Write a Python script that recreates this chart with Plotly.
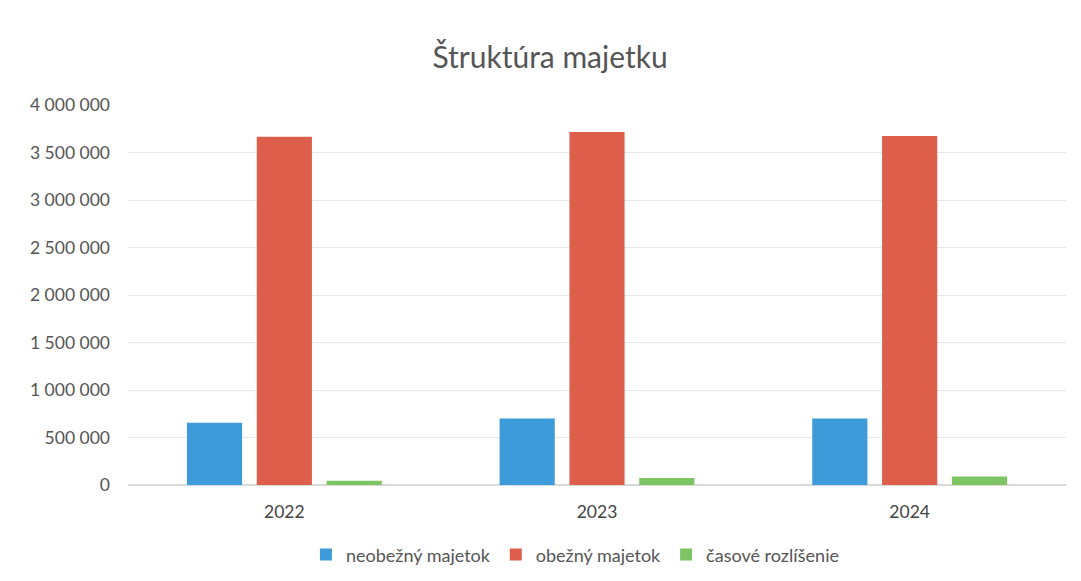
import plotly.graph_objects as go

years = ["2022", "2023", "2024"]
neobezny = [655000, 700000, 700000]
obezny = [3665000, 3715000, 3675000]
casove = [45000, 75000, 90000]

series = [
    ("neobežný majetok", neobezny, "#3D9BDA"),
    ("obežný majetok", obezny, "#DD5F4B"),
    ("časové rozlíšenie", casove, "#7DC462"),
]

fig = go.Figure()
for name, vals, col in series:
    fig.add_trace(go.Bar(x=years, y=vals, name=name, marker_color=col, marker_line_width=0))

font = "Lato, 'Open Sans', sans-serif"
fig.update_layout(
    width=1065, height=565,
    barmode="group", bargap=0.33, bargroupgap=0.21,
    separators=", ",
    paper_bgcolor="white", plot_bgcolor="white",
    margin=dict(l=120, r=7, t=97, b=88, autoexpand=False),
    title=dict(text="Štruktúra majetku", x=0.509, xanchor="center", y=0.913, yanchor="middle",
               font=dict(family=font, size=30, color="#555555")),
    font=dict(family=font, size=17.5, color="#555555"),
    yaxis=dict(range=[0, 4000000], dtick=500000, tickformat=",d", showgrid=True,
               gridcolor="#E4E8EC", gridwidth=1, zeroline=True, zerolinecolor="#D9D9D9",
               ticks="", ticklabelstandoff=17, tickfont=dict(size=17.5, color="#555555")),
    xaxis=dict(showline=False, ticks="", ticklabelstandoff=14,
               tickfont=dict(size=17.5, color="#444444")),
    legend=dict(orientation="h", x=0.477, xanchor="center", y=-0.184, yanchor="middle",
                font=dict(size=18, color="#555555"), itemwidth=30, traceorder="normal"),
)
fig.write_html("out.html")
